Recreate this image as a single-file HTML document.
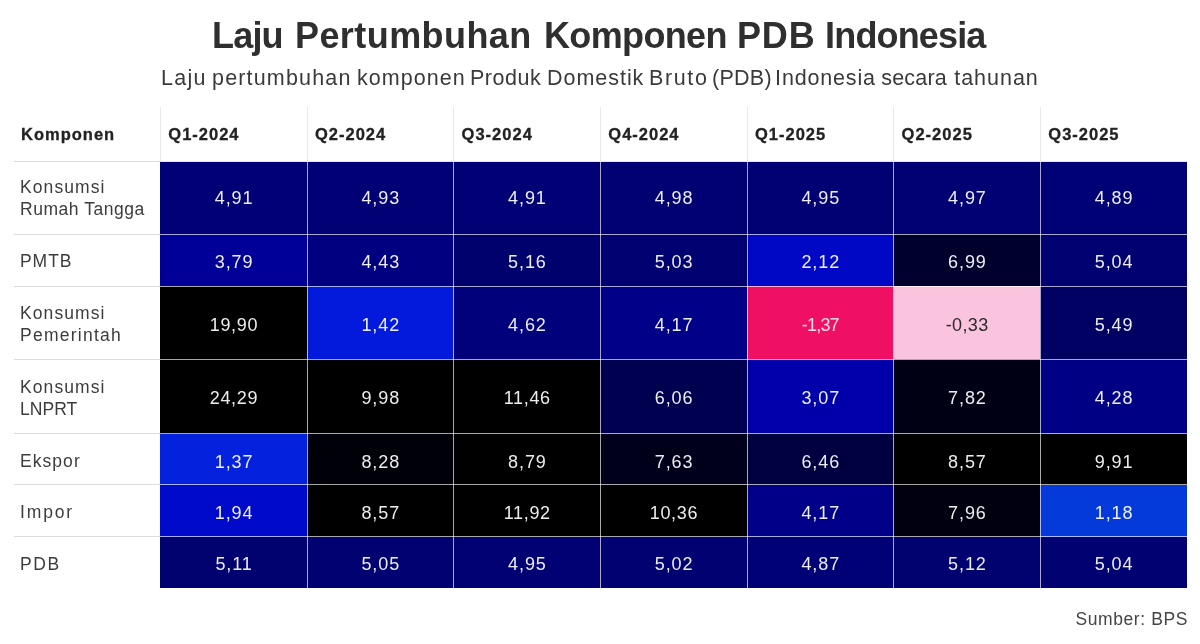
<!DOCTYPE html>
<html lang="id"><head><meta charset="utf-8"><title>Laju Pertumbuhan Komponen PDB Indonesia</title>
<style>
html,body{margin:0;padding:0;background:#fff;}
body{width:1200px;height:644px;position:relative;overflow:hidden;font-family:"Liberation Sans",sans-serif;color:#333;}
.abs{position:absolute;}
h1{position:absolute;left:0;width:1200px;height:40px;top:16px;margin:0;text-align:left;font-size:36px;line-height:40px;letter-spacing:-0.05px;font-weight:700;color:#2f2f2f;white-space:nowrap;}
.sub{position:absolute;left:0;width:1200px;height:28px;top:64px;text-align:left;font-size:21.5px;line-height:28px;color:#3a3a3a;white-space:nowrap;letter-spacing:0.665px;}
.th{position:absolute;font-weight:700;font-size:16.5px;line-height:20px;color:#222;white-space:nowrap;letter-spacing:1.0px;-webkit-text-stroke:0.3px #222;}
.lab{position:absolute;left:20px;font-size:17.5px;line-height:22px;letter-spacing:0.65px;color:#3c3c3c;display:flex;align-items:center;white-space:nowrap;}
.cell{position:absolute;display:flex;align-items:center;justify-content:center;font-size:18px;color:#fff;letter-spacing:0.9px;padding-left:0.9px;padding-top:2px;box-sizing:border-box;}
.w{position:absolute;top:0;}
.hl{position:absolute;height:1px;}
.vl{position:absolute;width:1px;}
.src{position:absolute;right:12px;top:608px;font-size:17.5px;line-height:22px;color:#444;letter-spacing:0.6px;}
</style></head><body>
<h1><span class="w" style="left:212.12px;letter-spacing:-0.840px">Laju</span> <span class="w" style="left:294.98px;letter-spacing:0.432px">Pertumbuhan</span> <span class="w" style="left:544.00px;letter-spacing:-0.643px">Komponen</span> <span class="w" style="left:737.00px;letter-spacing:0.810px">PDB</span> <span class="w" style="left:825.12px;letter-spacing:-0.855px">Indonesia</span></h1>
<div class="sub"><span class="w" style="left:161.12px;letter-spacing:1.260px">Laju</span> <span class="w" style="left:212.02px;letter-spacing:1.170px">pertumbuhan</span> <span class="w" style="left:357.02px;letter-spacing:1.029px">komponen</span> <span class="w" style="left:469.88px;letter-spacing:0.540px">Produk</span> <span class="w" style="left:547.12px;letter-spacing:0.951px">Domestik</span> <span class="w" style="left:649.00px;letter-spacing:1.620px">Bruto</span> <span class="w" style="left:712.02px;letter-spacing:0.270px">(PDB)</span> <span class="w" style="left:775.12px;letter-spacing:0.833px">Indonesia</span> <span class="w" style="left:881.28px;letter-spacing:0.180px">secara</span> <span class="w" style="left:954.18px;letter-spacing:0.990px">tahunan</span></div>

<div class="th" style="left:21px;top:123.5px">Komponen</div>
<div class="th" style="left:168.3px;top:123.5px">Q1-2024</div>
<div class="th" style="left:315.0px;top:123.5px">Q2-2024</div>
<div class="th" style="left:461.6px;top:123.5px">Q3-2024</div>
<div class="th" style="left:608.3px;top:123.5px">Q4-2024</div>
<div class="th" style="left:755.0px;top:123.5px">Q1-2025</div>
<div class="th" style="left:901.6px;top:123.5px">Q2-2025</div>
<div class="th" style="left:1048.3px;top:123.5px">Q3-2025</div>
<div class="lab" style="top:161.6px;height:72.7px"><div><span style="letter-spacing:1.08px">Konsumsi</span><br><span style="letter-spacing:0.53px">Rumah Tangga</span></div></div>
<div class="cell" style="left:160.30px;top:161.6px;width:146.67px;height:72.7px;background:rgb(1, 1, 117);color:rgba(255,255,255,0.93);padding-top:2.0px">4,91</div>
<div class="cell" style="left:306.97px;top:161.6px;width:146.67px;height:72.7px;background:rgb(1, 1, 117);color:rgba(255,255,255,0.93);padding-top:2.0px">4,93</div>
<div class="cell" style="left:453.64px;top:161.6px;width:146.67px;height:72.7px;background:rgb(1, 1, 117);color:rgba(255,255,255,0.93);padding-top:2.0px">4,91</div>
<div class="cell" style="left:600.31px;top:161.6px;width:146.67px;height:72.7px;background:rgb(1, 1, 115);color:rgba(255,255,255,0.93);padding-top:2.0px">4,98</div>
<div class="cell" style="left:746.98px;top:161.6px;width:146.67px;height:72.7px;background:rgb(1, 1, 116);color:rgba(255,255,255,0.93);padding-top:2.0px">4,95</div>
<div class="cell" style="left:893.65px;top:161.6px;width:146.67px;height:72.7px;background:rgb(1, 1, 116);color:rgba(255,255,255,0.93);padding-top:2.0px">4,97</div>
<div class="cell" style="left:1040.32px;top:161.6px;width:146.67px;height:72.7px;background:rgb(1, 1, 118);color:rgba(255,255,255,0.93);padding-top:2.0px">4,89</div>
<div class="lab" style="top:235.1px;height:52.1px"><div><span style="letter-spacing:0.95px">PMTB</span></div></div>
<div class="cell" style="left:160.30px;top:234.3px;width:146.67px;height:52.1px;background:rgb(0, 0, 152);color:rgba(255,255,255,0.93);padding-top:3.6px">3,79</div>
<div class="cell" style="left:306.97px;top:234.3px;width:146.67px;height:52.1px;background:rgb(0, 0, 129);color:rgba(255,255,255,0.93);padding-top:3.6px">4,43</div>
<div class="cell" style="left:453.64px;top:234.3px;width:146.67px;height:52.1px;background:rgb(1, 1, 110);color:rgba(255,255,255,0.93);padding-top:3.6px">5,16</div>
<div class="cell" style="left:600.31px;top:234.3px;width:146.67px;height:52.1px;background:rgb(1, 1, 114);color:rgba(255,255,255,0.93);padding-top:3.6px">5,03</div>
<div class="cell" style="left:746.98px;top:234.3px;width:146.67px;height:52.1px;background:rgb(0, 7, 197);color:rgba(255,255,255,0.93);padding-top:3.6px">2,12</div>
<div class="cell" style="left:893.65px;top:234.3px;width:146.67px;height:52.1px;background:rgb(0, 0, 45);color:rgba(255,255,255,0.93);padding-top:3.6px">6,99</div>
<div class="cell" style="left:1040.32px;top:234.3px;width:146.67px;height:52.1px;background:rgb(1, 1, 114);color:rgba(255,255,255,0.93);padding-top:3.6px">5,04</div>
<div class="lab" style="top:287.7px;height:72.9px"><div><span style="letter-spacing:1.08px">Konsumsi</span><br><span style="letter-spacing:1.25px">Pemerintah</span></div></div>
<div class="cell" style="left:160.30px;top:286.4px;width:146.67px;height:72.9px;background:rgb(0, 0, 0);color:rgba(255,255,255,0.93);padding-top:4.6px;letter-spacing:0.65px;padding-left:0.65px">19,90</div>
<div class="cell" style="left:306.97px;top:286.4px;width:146.67px;height:72.9px;background:rgb(3, 25, 220);color:rgba(255,255,255,0.93);padding-top:4.6px">1,42</div>
<div class="cell" style="left:453.64px;top:286.4px;width:146.67px;height:72.9px;background:rgb(1, 1, 124);color:rgba(255,255,255,0.93);padding-top:4.6px">4,62</div>
<div class="cell" style="left:600.31px;top:286.4px;width:146.67px;height:72.9px;background:rgb(0, 0, 136);color:rgba(255,255,255,0.93);padding-top:4.6px">4,17</div>
<div class="cell" style="left:746.98px;top:286.4px;width:146.67px;height:72.9px;background:rgb(240, 16, 99);color:rgba(255,255,255,0.93);padding-top:4.6px;letter-spacing:-0.8px;padding-left:0;color:rgba(255,255,255,0.85)">-1,37</div>
<div class="cell" style="left:893.65px;top:286.4px;width:146.67px;height:72.9px;background:rgb(251, 196, 222);color:#2a2a2a;padding-top:4.6px;letter-spacing:0.35px;padding-left:0.35px">-0,33</div>
<div class="cell" style="left:1040.32px;top:286.4px;width:146.67px;height:72.9px;background:rgb(1, 1, 99);color:rgba(255,255,255,0.93);padding-top:4.6px">5,49</div>
<div class="lab" style="top:360.4px;height:74.3px"><div><span style="letter-spacing:1.08px">Konsumsi</span><br><span style="letter-spacing:0.05px">LNPRT</span></div></div>
<div class="cell" style="left:160.30px;top:359.3px;width:146.67px;height:74.3px;background:rgb(0, 0, 0);color:rgba(255,255,255,0.93);padding-top:4.2px;letter-spacing:0.65px;padding-left:0.65px">24,29</div>
<div class="cell" style="left:306.97px;top:359.3px;width:146.67px;height:74.3px;background:rgb(0, 0, 0);color:rgba(255,255,255,0.93);padding-top:4.2px">9,98</div>
<div class="cell" style="left:453.64px;top:359.3px;width:146.67px;height:74.3px;background:rgb(0, 0, 0);color:rgba(255,255,255,0.93);padding-top:4.2px;letter-spacing:0.65px;padding-left:0.65px">11,46</div>
<div class="cell" style="left:600.31px;top:359.3px;width:146.67px;height:74.3px;background:rgb(0, 0, 80);color:rgba(255,255,255,0.93);padding-top:4.2px">6,06</div>
<div class="cell" style="left:746.98px;top:359.3px;width:146.67px;height:74.3px;background:rgb(0, 0, 170);color:rgba(255,255,255,0.93);padding-top:4.2px">3,07</div>
<div class="cell" style="left:893.65px;top:359.3px;width:146.67px;height:74.3px;background:rgb(0, 0, 20);color:rgba(255,255,255,0.93);padding-top:4.2px">7,82</div>
<div class="cell" style="left:1040.32px;top:359.3px;width:146.67px;height:74.3px;background:rgb(0, 0, 133);color:rgba(255,255,255,0.93);padding-top:4.2px">4,28</div>
<div class="lab" style="top:435.5px;height:51.2px"><div><span style="letter-spacing:1.05px">Ekspor</span></div></div>
<div class="cell" style="left:160.30px;top:433.6px;width:146.67px;height:51.2px;background:rgb(4, 33, 222);color:rgba(255,255,255,0.93);padding-top:5.8px">1,37</div>
<div class="cell" style="left:306.97px;top:433.6px;width:146.67px;height:51.2px;background:rgb(0, 0, 8);color:rgba(255,255,255,0.93);padding-top:5.8px">8,28</div>
<div class="cell" style="left:453.64px;top:433.6px;width:146.67px;height:51.2px;background:rgb(0, 0, 0);color:rgba(255,255,255,0.93);padding-top:5.8px">8,79</div>
<div class="cell" style="left:600.31px;top:433.6px;width:146.67px;height:51.2px;background:rgb(0, 0, 26);color:rgba(255,255,255,0.93);padding-top:5.8px">7,63</div>
<div class="cell" style="left:746.98px;top:433.6px;width:146.67px;height:51.2px;background:rgb(0, 0, 65);color:rgba(255,255,255,0.93);padding-top:5.8px">6,46</div>
<div class="cell" style="left:893.65px;top:433.6px;width:146.67px;height:51.2px;background:rgb(0, 0, 1);color:rgba(255,255,255,0.93);padding-top:5.8px">8,57</div>
<div class="cell" style="left:1040.32px;top:433.6px;width:146.67px;height:51.2px;background:rgb(0, 0, 0);color:rgba(255,255,255,0.93);padding-top:5.8px">9,91</div>
<div class="lab" style="top:486.3px;height:52.0px"><div><span style="letter-spacing:1.85px">Impor</span></div></div>
<div class="cell" style="left:160.30px;top:484.8px;width:146.67px;height:52.0px;background:rgb(0, 10, 202);color:rgba(255,255,255,0.93);padding-top:5.0px">1,94</div>
<div class="cell" style="left:306.97px;top:484.8px;width:146.67px;height:52.0px;background:rgb(0, 0, 1);color:rgba(255,255,255,0.93);padding-top:5.0px">8,57</div>
<div class="cell" style="left:453.64px;top:484.8px;width:146.67px;height:52.0px;background:rgb(0, 0, 0);color:rgba(255,255,255,0.93);padding-top:5.0px;letter-spacing:0.65px;padding-left:0.65px">11,92</div>
<div class="cell" style="left:600.31px;top:484.8px;width:146.67px;height:52.0px;background:rgb(0, 0, 0);color:rgba(255,255,255,0.93);padding-top:5.0px;letter-spacing:0.65px;padding-left:0.65px">10,36</div>
<div class="cell" style="left:746.98px;top:484.8px;width:146.67px;height:52.0px;background:rgb(0, 0, 136);color:rgba(255,255,255,0.93);padding-top:5.0px">4,17</div>
<div class="cell" style="left:893.65px;top:484.8px;width:146.67px;height:52.0px;background:rgb(0, 0, 16);color:rgba(255,255,255,0.93);padding-top:5.0px">7,96</div>
<div class="cell" style="left:1040.32px;top:484.8px;width:146.67px;height:52.0px;background:rgb(4, 58, 218);color:rgba(255,255,255,0.93);padding-top:5.0px">1,18</div>
<div class="lab" style="top:538.0px;height:51.4px"><div><span style="letter-spacing:1.6px">PDB</span></div></div>
<div class="cell" style="left:160.30px;top:536.8px;width:146.67px;height:51.4px;background:rgb(1, 1, 111);color:rgba(255,255,255,0.93);padding-top:4.4px">5,11</div>
<div class="cell" style="left:306.97px;top:536.8px;width:146.67px;height:51.4px;background:rgb(1, 1, 113);color:rgba(255,255,255,0.93);padding-top:4.4px">5,05</div>
<div class="cell" style="left:453.64px;top:536.8px;width:146.67px;height:51.4px;background:rgb(1, 1, 116);color:rgba(255,255,255,0.93);padding-top:4.4px">4,95</div>
<div class="cell" style="left:600.31px;top:536.8px;width:146.67px;height:51.4px;background:rgb(1, 1, 114);color:rgba(255,255,255,0.93);padding-top:4.4px">5,02</div>
<div class="cell" style="left:746.98px;top:536.8px;width:146.67px;height:51.4px;background:rgb(1, 1, 118);color:rgba(255,255,255,0.93);padding-top:4.4px">4,87</div>
<div class="cell" style="left:893.65px;top:536.8px;width:146.67px;height:51.4px;background:rgb(1, 1, 111);color:rgba(255,255,255,0.93);padding-top:4.4px">5,12</div>
<div class="cell" style="left:1040.32px;top:536.8px;width:146.67px;height:51.4px;background:rgb(1, 1, 114);color:rgba(255,255,255,0.93);padding-top:4.4px">5,04</div>
<div class="hl" style="left:14px;width:146px;top:161.1px;background:#dcdcdc"></div>
<div class="hl" style="left:14px;width:146px;top:233.8px;background:#dcdcdc"></div>
<div class="hl" style="left:14px;width:146px;top:285.9px;background:#dcdcdc"></div>
<div class="hl" style="left:14px;width:146px;top:358.8px;background:#dcdcdc"></div>
<div class="hl" style="left:14px;width:146px;top:433.1px;background:#dcdcdc"></div>
<div class="hl" style="left:14px;width:146px;top:484.3px;background:#dcdcdc"></div>
<div class="hl" style="left:14px;width:146px;top:536.3px;background:#dcdcdc"></div>
<div class="hl" style="left:160px;width:1026.5px;top:233.8px;background:rgba(255,255,255,0.66)"></div>
<div class="hl" style="left:160px;width:1026.5px;top:285.9px;background:rgba(255,255,255,0.66)"></div>
<div class="hl" style="left:160px;width:1026.5px;top:358.8px;background:rgba(255,255,255,0.66)"></div>
<div class="hl" style="left:160px;width:1026.5px;top:433.1px;background:rgba(255,255,255,0.66)"></div>
<div class="hl" style="left:160px;width:1026.5px;top:484.3px;background:rgba(255,255,255,0.66)"></div>
<div class="hl" style="left:160px;width:1026.5px;top:536.3px;background:rgba(255,255,255,0.66)"></div>
<div class="hl" style="left:160px;width:1026.5px;top:161.1px;background:#e4e4ee"></div>
<div class="vl" style="left:159.8px;top:107px;height:54px;background:#eaeaea"></div>
<div class="vl" style="left:306.5px;top:107px;height:54px;background:#eaeaea"></div>
<div class="vl" style="left:453.1px;top:107px;height:54px;background:#eaeaea"></div>
<div class="vl" style="left:599.8px;top:107px;height:54px;background:#eaeaea"></div>
<div class="vl" style="left:746.5px;top:107px;height:54px;background:#eaeaea"></div>
<div class="vl" style="left:893.1px;top:107px;height:54px;background:#eaeaea"></div>
<div class="vl" style="left:1039.8px;top:107px;height:54px;background:#eaeaea"></div>
<div class="vl" style="left:306.5px;top:161px;height:427px;background:rgba(255,255,255,0.66)"></div>
<div class="vl" style="left:453.1px;top:161px;height:427px;background:rgba(255,255,255,0.66)"></div>
<div class="vl" style="left:599.8px;top:161px;height:427px;background:rgba(255,255,255,0.66)"></div>
<div class="vl" style="left:746.5px;top:161px;height:427px;background:rgba(255,255,255,0.66)"></div>
<div class="vl" style="left:893.1px;top:161px;height:427px;background:rgba(255,255,255,0.66)"></div>
<div class="vl" style="left:1039.8px;top:161px;height:427px;background:rgba(255,255,255,0.66)"></div>
<div class="src">Sumber: BPS</div>
</body></html>
